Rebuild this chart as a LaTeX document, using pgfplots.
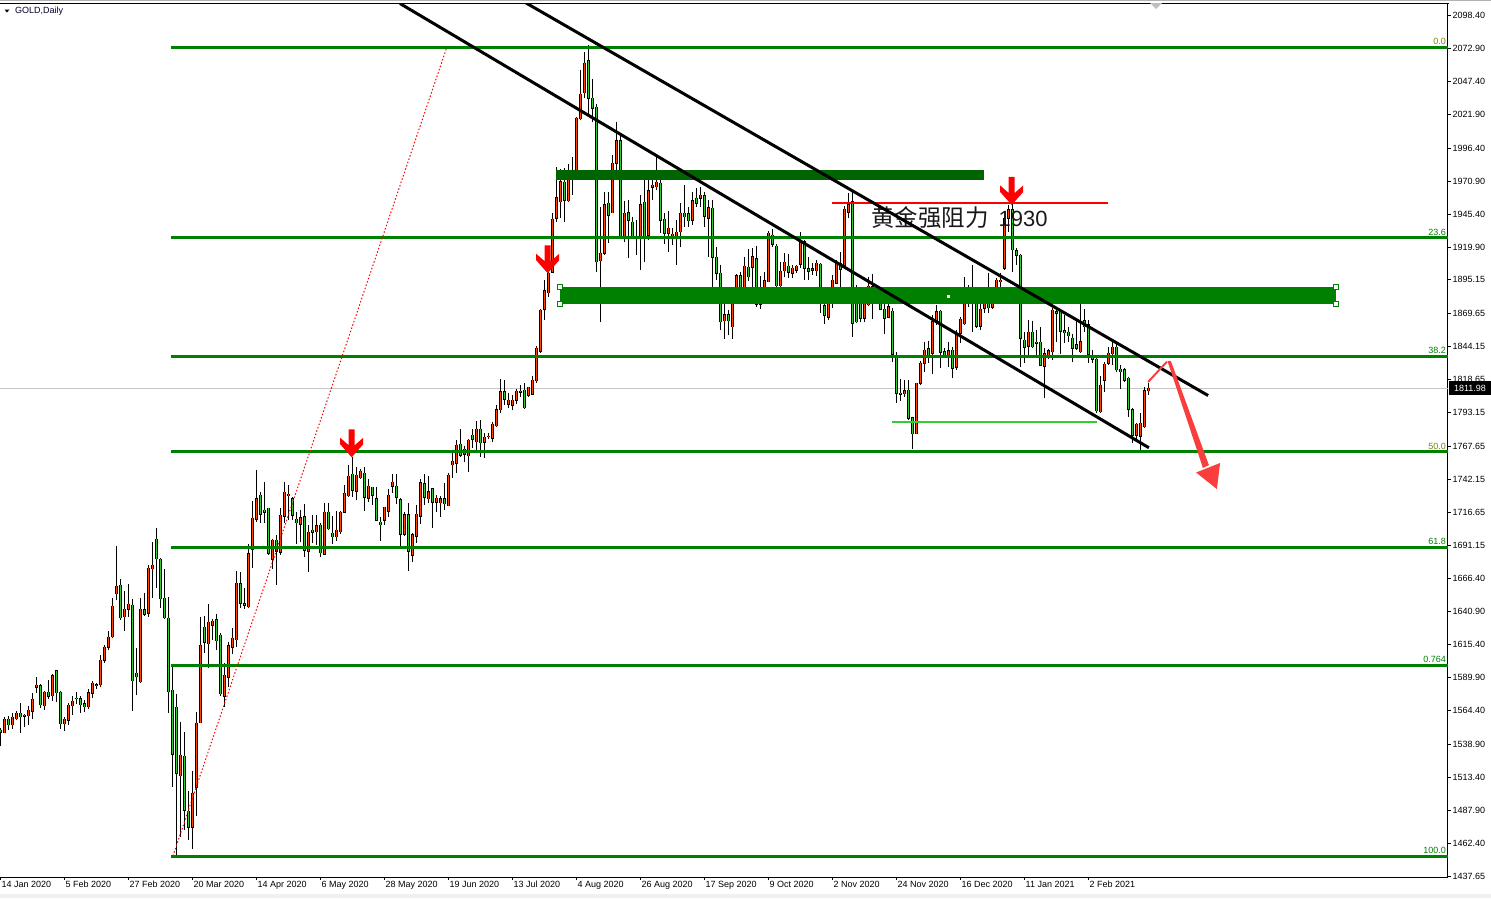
\documentclass[border=0pt]{standalone}
\usepackage{fontspec}
\setmainfont{Liberation Sans}
\newfontfamily\cjk{Noto Sans CJK SC}
\usepackage{pgfplots}
\pgfplotsset{compat=1.18}
\usepackage{pgfplotstable}
\usetikzlibrary{arrows.meta}

\definecolor{bullred}{RGB}{255,69,0}
\definecolor{beargreen}{RGB}{50,205,50}
\definecolor{fibgreen}{RGB}{0,128,0}
\definecolor{zonedark}{RGB}{0,100,0}
\definecolor{fibolive}{RGB}{128,128,0}
\definecolor{arrowred}{RGB}{250,62,62}

% daily candles, x = bar number from 14 Jan 2020
\pgfplotstableread{
k o h l c
0 1549.7 1551.0 1537.4 1547.9
1 1547.7 1560.0 1547.2 1557.9
2 1557.9 1560.5 1549.7 1553.8
3 1553.8 1563.0 1550.8 1559.5
4 1558.4 1564.1 1557.4 1562.5
5 1562.5 1570.2 1547.7 1560.0
6 1561.0 1561.8 1551.8 1560.2
7 1560.7 1568.2 1553.8 1564.8
8 1564.1 1577.9 1558.4 1573.3
9 1582.5 1590.2 1577.9 1584.0
10 1583.5 1585.0 1566.9 1569.2
11 1568.4 1579.4 1565.1 1578.7
12 1578.7 1587.9 1573.8 1575.8
13 1576.1 1592.7 1572.3 1591.2
14 1595.0 1595.8 1571.2 1578.4
15 1578.7 1579.9 1550.3 1554.6
16 1554.6 1560.0 1549.2 1557.9
17 1557.4 1570.7 1553.8 1568.7
18 1568.4 1575.6 1561.0 1571.7
19 1574.0 1578.9 1569.7 1573.8
20 1573.5 1575.8 1563.0 1569.2
21 1569.7 1572.8 1563.6 1567.4
22 1567.7 1581.0 1566.1 1578.1
23 1577.9 1587.1 1574.3 1585.6
24 1583.5 1585.6 1581.0 1584.3
25 1584.5 1607.3 1583.0 1603.2
26 1603.2 1615.0 1601.4 1613.2
27 1613.2 1625.5 1610.9 1620.9
28 1621.4 1650.8 1620.1 1644.6
29 1654.4 1690.9 1649.5 1660.0
30 1660.8 1665.4 1634.2 1636.0
31 1636.7 1656.4 1626.0 1642.3
32 1642.3 1661.5 1636.5 1646.2
33 1645.4 1650.5 1564.6 1587.6
34 1593.2 1612.7 1576.9 1590.7
35 1586.8 1650.8 1586.1 1642.3
36 1641.8 1654.6 1637.2 1638.5
37 1639.3 1676.4 1636.7 1673.8
38 1673.6 1693.8 1650.8 1676.1
39 1696.1 1704.8 1658.5 1681.2
40 1680.7 1682.0 1643.1 1650.5
41 1650.8 1673.0 1634.7 1636.0
42 1635.4 1651.6 1562.5 1579.2
43 1580.2 1598.3 1506.3 1531.1
44 1567.1 1577.4 1453.8 1516.5
45 1514.7 1555.9 1467.9 1530.3
46 1529.5 1548.2 1473.0 1488.1
47 1487.3 1503.2 1465.3 1475.1
48 1475.1 1518.3 1458.2 1501.1
49 1505.7 1563.3 1483.7 1554.9
50 1555.4 1636.7 1554.9 1614.7
51 1628.5 1637.2 1608.6 1617.0
52 1616.0 1646.4 1597.1 1632.4
53 1630.1 1635.2 1618.8 1633.1
54 1634.2 1638.8 1611.1 1618.3
55 1622.4 1623.9 1575.8 1577.6
56 1575.8 1600.9 1567.7 1591.7
57 1590.2 1617.3 1583.0 1614.2
58 1613.2 1628.3 1607.8 1620.3
59 1618.8 1671.8 1613.2 1662.3
60 1661.8 1671.2 1643.3 1646.9
61 1646.4 1658.4 1642.3 1645.4
62 1644.4 1692.4 1643.3 1684.8
63 1688.4 1725.7 1674.3 1712.1
64 1711.4 1749.2 1709.6 1727.0
65 1729.8 1732.6 1708.8 1715.2
66 1718.5 1739.8 1708.3 1716.7
67 1719.8 1719.8 1684.0 1685.3
68 1680.7 1696.0 1673.0 1695.3
69 1695.3 1699.4 1661.2 1686.8
70 1686.1 1719.8 1684.0 1714.4
71 1713.9 1740.0 1708.3 1732.1
72 1729.5 1737.7 1710.9 1730.6
73 1727.0 1728.8 1710.9 1714.7
74 1711.4 1717.3 1692.4 1708.8
75 1707.5 1718.5 1694.2 1712.4
76 1713.2 1722.9 1682.7 1687.6
77 1686.8 1707.0 1671.2 1701.4
78 1702.9 1714.7 1693.0 1701.4
79 1701.9 1714.7 1691.7 1706.3
80 1706.8 1708.3 1682.7 1685.8
81 1684.5 1724.2 1684.3 1716.7
82 1716.7 1724.2 1703.2 1704.2
83 1700.6 1713.9 1692.4 1698.1
84 1698.1 1717.8 1694.5 1702.9
85 1701.9 1717.8 1700.1 1716.7
86 1716.7 1737.5 1716.0 1731.3
87 1729.5 1753.1 1728.8 1744.6
88 1745.9 1759.5 1728.8 1733.6
89 1732.9 1751.3 1726.2 1745.1
90 1743.4 1749.7 1742.1 1748.2
91 1746.7 1751.3 1717.8 1728.3
92 1727.5 1742.1 1724.9 1736.7
93 1735.9 1736.4 1722.6 1729.8
94 1727.0 1736.4 1710.1 1710.6
95 1709.1 1713.4 1695.0 1707.3
96 1710.6 1720.8 1706.8 1720.8
97 1717.5 1734.7 1713.4 1729.8
98 1736.7 1746.2 1731.3 1740.0
99 1736.7 1746.2 1722.9 1728.3
100 1726.2 1727.5 1690.9 1699.9
101 1699.9 1717.0 1698.3 1714.7
102 1714.7 1723.7 1672.0 1686.8
103 1683.7 1700.6 1678.9 1699.4
104 1698.3 1722.1 1693.0 1715.2
105 1713.9 1742.1 1707.8 1739.3
106 1738.5 1746.2 1722.6 1728.3
107 1727.2 1744.4 1723.7 1732.4
108 1734.7 1735.7 1705.0 1724.4
109 1724.4 1730.0 1717.3 1727.7
110 1724.2 1729.3 1713.4 1727.0
111 1727.0 1739.5 1718.5 1723.4
112 1721.9 1746.7 1721.6 1745.1
113 1753.3 1764.6 1743.4 1756.1
114 1754.3 1772.3 1746.7 1768.2
115 1768.9 1780.7 1759.5 1760.5
116 1761.5 1767.9 1755.1 1765.1
117 1760.2 1772.8 1747.4 1772.0
118 1775.8 1780.7 1766.4 1772.8
119 1771.0 1786.8 1764.6 1780.5
120 1780.5 1787.6 1759.5 1770.2
121 1770.5 1777.4 1758.2 1774.3
122 1775.1 1777.9 1772.8 1775.3
123 1773.6 1786.4 1771.0 1784.5
124 1783.3 1799.1 1782.5 1795.3
125 1795.3 1818.8 1793.0 1809.3
126 1809.3 1818.3 1799.1 1803.5
127 1799.9 1808.1 1796.5 1802.9
128 1799.1 1806.8 1795.3 1802.9
129 1802.9 1811.6 1799.9 1809.8
130 1808.8 1814.4 1805.5 1809.8
131 1810.6 1815.7 1796.3 1797.0
132 1806.5 1813.2 1805.5 1812.7
133 1807.3 1821.3 1806.5 1818.0
134 1817.8 1844.4 1816.2 1842.6
135 1840.3 1872.5 1838.7 1871.7
136 1872.5 1895.0 1864.3 1886.8
137 1885.3 1912.9 1881.7 1900.1
138 1900.9 1946.2 1900.1 1941.6
139 1942.3 1981.5 1939.8 1958.2
140 1955.1 1979.9 1942.3 1970.5
141 1970.0 1981.2 1939.8 1956.2
142 1955.9 1983.8 1955.1 1975.9
143 1978.2 1989.2 1960.3 1976.1
144 1975.3 2019.9 1972.3 2019.1
145 2018.8 2056.2 2017.8 2037.5
146 2038.8 2070.0 2034.4 2061.3
147 2063.3 2075.4 2021.6 2034.7
148 2034.4 2049.5 2016.5 2026.8
149 2027.5 2030.1 1901.4 1909.1
150 1909.9 1951.3 1863.1 1915.5
151 1915.5 1962.8 1914.2 1952.6
152 1953.9 1962.8 1923.2 1944.6
153 1946.7 1990.9 1946.2 1984.6
154 1984.6 2016.5 1975.6 2001.7
155 2001.7 2007.6 1927.0 1927.8
156 1928.3 1955.4 1924.4 1946.2
157 1946.7 1956.4 1911.7 1940.8
158 1939.3 1943.6 1927.0 1927.8
159 1928.5 1941.1 1914.2 1928.0
160 1929.0 1960.3 1902.7 1952.6
161 1954.6 1976.9 1909.1 1929.0
162 1929.3 1973.0 1925.7 1963.6
163 1966.1 1976.9 1956.4 1967.9
164 1966.6 1990.9 1964.1 1970.0
165 1969.2 1974.3 1930.8 1940.8
166 1941.8 1946.2 1922.7 1930.8
167 1930.8 1948.2 1916.8 1934.7
168 1928.3 1934.7 1921.9 1930.3
169 1929.0 1941.1 1906.5 1931.6
170 1932.1 1953.9 1920.6 1946.2
171 1946.2 1967.9 1936.0 1943.6
172 1945.7 1951.3 1936.0 1940.6
173 1940.8 1962.8 1937.2 1955.9
174 1957.7 1965.4 1951.3 1953.9
175 1957.7 1966.6 1951.3 1960.0
176 1959.5 1962.8 1936.0 1944.1
177 1942.3 1956.4 1912.9 1950.5
178 1950.0 1956.4 1882.2 1912.4
179 1912.4 1920.6 1895.0 1900.2
180 1900.2 1906.5 1856.7 1863.1
181 1863.8 1877.1 1849.5 1868.2
182 1868.2 1872.0 1852.8 1863.8
183 1859.2 1883.5 1849.5 1882.0
184 1880.5 1899.6 1876.6 1898.1
185 1898.1 1901.4 1881.7 1885.6
186 1884.8 1912.4 1884.3 1905.5
187 1904.8 1918.6 1894.5 1897.6
188 1904.8 1919.3 1887.4 1912.9
189 1911.2 1921.4 1874.6 1876.6
190 1876.6 1898.4 1873.0 1887.4
191 1886.6 1901.2 1882.2 1894.3
192 1893.8 1932.9 1893.8 1930.8
193 1929.3 1933.9 1920.6 1922.4
194 1920.9 1922.7 1886.1 1890.7
195 1890.7 1909.1 1883.0 1901.7
196 1902.2 1915.5 1897.6 1908.6
197 1905.5 1915.0 1896.3 1900.9
198 1900.2 1906.5 1896.3 1904.2
199 1902.5 1906.5 1900.2 1905.5
200 1907.1 1931.6 1904.0 1925.7
201 1924.5 1925.7 1895.0 1904.0
202 1903.5 1912.9 1895.0 1901.7
203 1902.5 1907.8 1898.9 1903.5
204 1902.2 1910.4 1898.1 1907.8
205 1907.3 1907.8 1869.5 1877.1
206 1875.1 1886.1 1861.0 1867.9
207 1866.4 1881.0 1864.3 1879.2
208 1877.1 1898.9 1873.3 1895.0
209 1892.5 1910.4 1892.0 1907.8
210 1907.8 1916.8 1881.7 1903.2
211 1906.3 1951.8 1904.0 1949.3
212 1947.0 1961.5 1942.4 1952.6
213 1955.2 1964.1 1851.0 1861.8
214 1877.1 1891.2 1861.8 1863.1
215 1877.1 1884.8 1863.1 1865.6
216 1865.6 1884.3 1863.1 1877.1
217 1875.9 1897.6 1875.3 1890.4
218 1889.9 1899.6 1865.1 1888.4
219 1889.4 1891.2 1877.1 1880.5
220 1880.5 1887.9 1872.0 1872.5
221 1872.5 1877.1 1853.6 1865.6
222 1866.4 1879.7 1865.6 1874.6
223 1871.0 1873.3 1831.9 1838.0
224 1837.2 1840.0 1800.9 1808.1
225 1808.3 1818.8 1802.4 1807.3
226 1807.6 1818.3 1805.0 1809.9
227 1810.6 1818.3 1787.6 1788.9
228 1789.4 1790.2 1765.1 1776.9
229 1777.1 1816.3 1776.9 1815.7
230 1815.7 1832.9 1814.5 1831.1
231 1831.1 1847.7 1824.7 1841.3
232 1842.1 1848.5 1831.1 1837.7
233 1838.8 1868.2 1822.9 1863.1
234 1862.3 1875.6 1860.5 1870.5
235 1871.0 1872.0 1827.3 1839.5
236 1840.0 1842.6 1834.9 1837.5
237 1836.2 1847.7 1828.5 1840.6
238 1841.1 1843.9 1820.1 1827.3
239 1828.0 1856.7 1826.0 1854.1
240 1854.1 1866.9 1846.4 1864.9
241 1861.3 1897.6 1860.5 1885.3
242 1886.3 1891.2 1874.6 1882.2
243 1885.6 1906.5 1855.4 1877.1
244 1877.9 1881.0 1857.9 1859.7
245 1859.7 1879.7 1856.7 1872.5
246 1873.3 1884.3 1869.5 1879.2
247 1883.0 1900.7 1869.5 1873.8
248 1874.1 1887.4 1872.5 1878.9
249 1877.6 1896.3 1877.1 1894.8
250 1893.8 1900.7 1887.4 1895.0
251 1904.0 1944.9 1902.7 1942.4
252 1942.4 1952.6 1932.1 1948.8
253 1948.8 1953.9 1901.4 1918.1
254 1917.3 1919.3 1906.5 1914.0
255 1914.0 1915.0 1828.5 1850.3
256 1848.7 1855.4 1831.1 1843.4
257 1844.4 1864.3 1837.5 1854.9
258 1854.9 1863.8 1842.6 1843.9
259 1847.2 1856.7 1837.5 1846.7
260 1847.2 1858.7 1829.0 1829.8
261 1829.0 1842.6 1804.2 1838.3
262 1837.7 1841.8 1834.2 1840.6
263 1840.0 1873.3 1833.6 1872.0
264 1870.7 1874.6 1847.7 1869.5
265 1870.7 1872.0 1838.3 1855.9
266 1855.9 1868.2 1846.4 1854.6
267 1854.9 1859.2 1847.7 1852.1
268 1850.3 1853.6 1832.4 1842.6
269 1845.2 1864.3 1841.3 1842.6
270 1840.0 1876.6 1839.3 1847.7
271 1863.8 1872.5 1855.4 1859.0
272 1860.5 1864.3 1831.1 1838.0
273 1835.7 1841.3 1831.1 1834.2
274 1834.2 1835.7 1792.7 1794.8
275 1794.0 1821.4 1793.2 1814.2
276 1818.3 1832.4 1809.3 1830.3
277 1831.1 1843.4 1829.8 1838.8
278 1838.3 1849.0 1829.8 1843.4
279 1843.4 1847.7 1824.7 1826.0
280 1826.5 1829.8 1811.4 1824.7
281 1826.0 1827.3 1817.0 1818.3
282 1819.6 1820.9 1790.2 1795.8
283 1795.3 1796.6 1770.2 1776.1
284 1776.1 1785.6 1772.3 1784.5
285 1775.3 1792.7 1764.6 1785.0
286 1782.5 1812.7 1781.2 1810.1
287 1810.1 1815.7 1806.8 1811.98
}\candles

\newcommand{\downmark}[2]{%
  \fill[red] (axis cs:#1,#2) -- ++(-11.5pt,13pt) -- ++(0pt,6.5pt) -- ++(8.5pt,-7.5pt)
    -- ++(0pt,16pt) -- ++(6pt,0pt) -- ++(0pt,-16pt) -- ++(8.5pt,7.5pt) -- ++(0pt,-6.5pt) -- cycle;}
\newcommand{\fibline}[1]{%
  \draw[fibgreen, line width=3pt] (axis cs:42.6,#1) -- (axis cs:361.875,#1);}
\newcommand{\handle}[2]{%
  \draw[fibgreen, fill=white, line width=0.8pt] (axis cs:#1,#2) ++(-2.5pt,-2.5pt) rectangle ++(5pt,5pt);}
\pgfplotsset{
  candlebar/.style 2 args={draw=none, mark=none, forget plot,
    error bars/.cd, y dir=minus, y explicit, error mark=none,
    error bar style={draw=#1, line width=#2}},
}

\begin{document}
\begin{tikzpicture}
\path[use as bounding box] (0,0) rectangle (1491pt,-898pt);
\fill[gray!12] (0,-894pt) rectangle (1491pt,-898pt);
\draw[gray!60, line width=0.8pt] (0,-0.5pt) -- (1491pt,-0.5pt);
\draw[black, line width=1pt] (0,-3pt) -- (1449pt,-3pt);

\begin{axis}[
  at={(0pt,-3pt)}, anchor=north west,
  scale only axis, width=1448pt, height=874pt,
  xmin=-0.125, xmax=361.875,
  ymin=1436.9, ymax=2107.6,
  axis x line*=bottom, axis y line*=right,
  axis line style={black, line width=1pt},
  tick align=outside, major tick length=3pt,
  tick style={black, line width=0.8pt},
  xtick={0,16,...,272},
  xticklabels={14 Jan 2020,5 Feb 2020,27 Feb 2020,20 Mar 2020,14 Apr 2020,6 May 2020,28 May 2020,19 Jun 2020,13 Jul 2020,4 Aug 2020,26 Aug 2020,17 Sep 2020,9 Oct 2020,2 Nov 2020,24 Nov 2020,16 Dec 2020,11 Jan 2021,2 Feb 2021},
  xticklabel style={anchor=north west, inner sep=1pt, xshift=0pt, font=\fontsize{9}{10}\selectfont},
  ytick={1437.65,1462.40,1487.90,1513.40,1538.90,1564.40,1589.90,1615.40,1640.90,1666.40,1691.15,1716.65,1742.15,1767.65,1793.15,1818.65,1844.15,1869.65,1895.15,1919.90,1945.40,1970.90,1996.40,2021.90,2047.40,2072.90,2098.40},
  yticklabels={1437.65,1462.40,1487.90,1513.40,1538.90,1564.40,1589.90,1615.40,1640.90,1666.40,1691.15,1716.65,1742.15,1767.65,1793.15,1818.65,1844.15,1869.65,1895.15,1919.90,1945.40,1970.90,1996.40,2021.90,2047.40,2072.90,2098.40},
  yticklabel style={anchor=west, inner sep=1.5pt, font=\fontsize{9}{10}\selectfont},
]

% bid line
\draw[gray!45, line width=1pt] (axis cs:-0.125,1811.98) -- (axis cs:361.875,1811.98);

% wicks
\addplot[candlebar={black}{1pt}]
  table[x=k, y=h, y error minus expr=\thisrow{h}-\thisrow{l}] {\candles};
% up bodies
\addplot[candlebar={black}{3.4pt}]
  table[x=k, y expr={\thisrow{c}>=\thisrow{o} ? \thisrow{c}+0.4 : nan},
        y error minus expr=\thisrow{c}-\thisrow{o}+0.8] {\candles};
\addplot[candlebar={bullred}{1.8pt}]
  table[x=k, y expr={\thisrow{c}>=\thisrow{o} ? \thisrow{c} : nan},
        y error minus expr=\thisrow{c}-\thisrow{o}] {\candles};
% down bodies
\addplot[candlebar={black}{3.4pt}]
  table[x=k, y expr={\thisrow{c}<\thisrow{o} ? \thisrow{o}+0.4 : nan},
        y error minus expr=\thisrow{o}-\thisrow{c}+0.8] {\candles};
\addplot[candlebar={beargreen}{1.8pt}]
  table[x=k, y expr={\thisrow{c}<\thisrow{o} ? \thisrow{o} : nan},
        y error minus expr=\thisrow{o}-\thisrow{c}] {\candles};

% fibonacci levels
\fibline{2073.8}
\fibline{1927.3}
\fibline{1836.7}
\fibline{1763.4}
\fibline{1690.1}
\fibline{1599.5}
\fibline{1453.0}
\draw[red, line width=1pt, dash pattern=on 1.5pt off 2pt] (axis cs:43.1,1453.0) -- (axis cs:111.6,2073.8);
\begin{scope}[every node/.style={anchor=south east, inner sep=0pt, yshift=2pt, font=\fontsize{9}{10}\selectfont}]
\node[text=fibolive] at (axis cs:361.4,2073.8) {0.0};
\node[text=fibgreen] at (axis cs:361.4,1927.3) {23.6};
\node[text=fibgreen] at (axis cs:361.4,1836.7) {38.2};
\node[text=fibolive] at (axis cs:361.4,1763.4) {50.0};
\node[text=fibgreen] at (axis cs:361.4,1690.1) {61.8};
\node[text=fibgreen] at (axis cs:361.4,1599.5) {0.764};
\node[text=fibgreen] at (axis cs:361.4,1453.0) {100.0};
\end{scope}

% zones
\fill[zonedark] (axis cs:138.9,1979.1) rectangle (axis cs:245.9,1971.4);
\fill[fibgreen] (axis cs:139.9,1889.7) rectangle (axis cs:333.9,1876.6);
\handle{139.9}{1889.7}
\handle{139.9}{1876.6}
\handle{333.9}{1889.7}
\handle{333.9}{1876.6}
\fill[white] (axis cs:236.9,1882.7) ++(-1.5pt,-1.5pt) rectangle ++(3pt,3pt);
\draw[beargreen, line width=2pt] (axis cs:223.0,1786.4) -- (axis cs:274.1,1786.4);

% resistance line and label
\draw[red, line width=2pt] (axis cs:207.9,1953.8) -- (axis cs:277.0,1953.8);
\node[anchor=west, inner sep=0pt, text=black!90] at (axis cs:217.6,1942.6)
  {{\cjk\fontsize{23.5}{24}\selectfont 黄金强阻力}\hspace{10pt}{\fontsize{22}{24}\selectfont 1930}};

% channel
\draw[black, line width=3pt] (axis cs:99.875,2107.2) -- (axis cs:287.1,1766.3);
\draw[black, line width=3pt] (axis cs:131.4,2107.6) -- (axis cs:301.9,1806.4);

% arrows
\downmark{87.8}{1759.0}
\downmark{136.8}{1900.2}
\downmark{252.8}{1952.6}
\draw[arrowred, line width=2pt] (axis cs:286.9,1816.8) -- (axis cs:291.6,1832.3);
\fill[arrowred] (axis cs:291.75,1832.9) -- (axis cs:292.6,1832.9) -- (axis cs:302.1,1753.0)
  -- (axis cs:300.6,1750.8) -- cycle;
\fill[arrowred] (axis cs:298.9,1747.3) -- (axis cs:304.9,1754.6) -- (axis cs:304.1,1734.6) -- cycle;
\end{axis}

% price tag and header
\fill[black] (1449pt,-381pt) rectangle (1491pt,-395pt);
\node[text=white, inner sep=0pt, font=\fontsize{9}{10}\selectfont] at (1470pt,-388pt) {1811.98};
\fill[black] (4.5pt,-9.5pt) -- (9.5pt,-9.5pt) -- (7pt,-12.5pt) -- cycle;
\node[anchor=west, inner sep=0pt, text=black!85!blue, font=\fontsize{9}{10}\selectfont] at (15pt,-11.5pt) {GOLD,Daily};
\fill[gray!50] (1150pt,-3pt) -- (1162pt,-3pt) -- (1156pt,-9pt) -- cycle;
\end{tikzpicture}
\end{document}
